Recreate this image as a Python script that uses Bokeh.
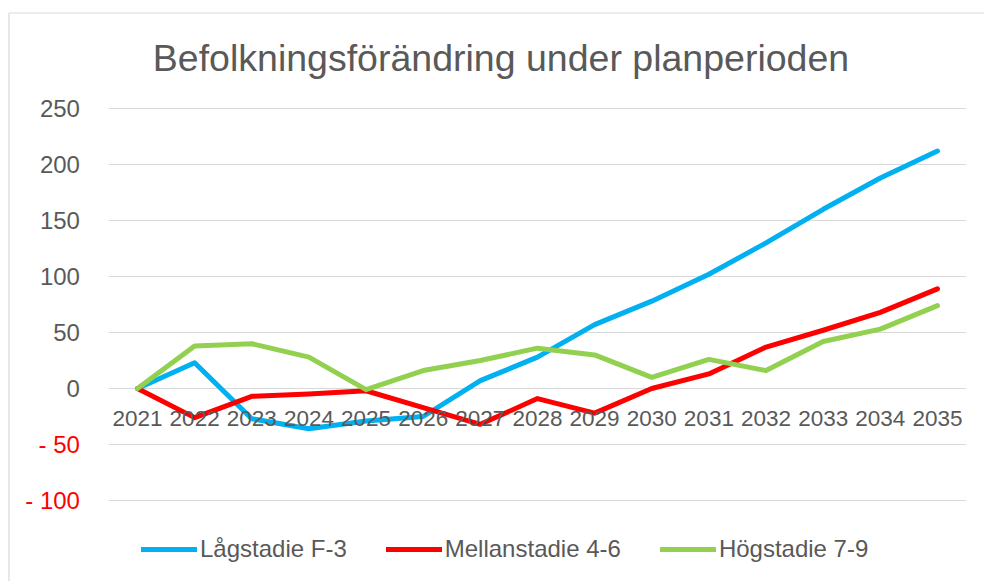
from bokeh.plotting import figure
from bokeh.models import (Range1d, FixedTicker, LinearAxis, Legend, LegendItem,
                          CustomJSTickFormatter, Label)
from bokeh.embed import file_html
from bokeh.resources import INLINE

# ---- data ----
years = [2021, 2022, 2023, 2024, 2025, 2026, 2027, 2028, 2029, 2030, 2031, 2032, 2033, 2034, 2035]
lag = [0, 23, -27, -36, -29, -25, 7, 28, 57, 78, 102, 130, 160, 188, 212]
mellan = [0, -26, -7, -5, -2, -17, -32, -9, -22, 0, 13, 37, 52, 68, 89]
hog = [0, 38, 40, 28, -1, 16, 25, 36, 30, 10, 26, 16, 42, 53, 74]
series_names = ["Lågstadie F-3", "Mellanstadie 4-6", "Högstadie 7-9"]
series_colors = ["#00B0F0", "#FF0000", "#92D050"]
y_ticks_pos = [0, 50, 100, 150, 200, 250]
y_ticks_neg = [-100, -50]
title_text = "Befolkningsförändring under planperioden"

FONT = "Liberation Sans"
GREY = "#595959"
GRID = "#D9D9D9"

# ---- layout (page pixels) ----
W, H = 984, 581
ORIGIN_X, ORIGIN_Y = 0, 0          # canvas top-left in the picture
PX_PER_YEAR = 57.14
PX_FIRST_YEAR = 137                # picture x of first category
PX_PER_UNIT = 1.12
PX_ZERO = 388                      # picture y of value 0
BOX_L, BOX_T = 8.5, 12.5           # chart-area border

x_start = years[0] - (PX_FIRST_YEAR - ORIGIN_X) / PX_PER_YEAR
x_end = x_start + W / PX_PER_YEAR
y_end = (PX_ZERO - ORIGIN_Y) / PX_PER_UNIT
y_start = y_end - H / PX_PER_UNIT
grid_x0 = years[0] - 0.5
grid_x1 = years[-1] + 0.5

p = figure(width=W, height=H,
           x_range=Range1d(x_start, x_end), y_range=Range1d(y_start, y_end),
           output_backend="svg", toolbar_location=None,
           min_border=0, x_axis_location=None, y_axis_location=None)
p.outline_line_color = None
p.background_fill_color = "white"
p.border_fill_color = "white"
p.grid.visible = False

# chart-area border (left and top edges)
bx = x_start + (BOX_L - ORIGIN_X) / PX_PER_YEAR
by = y_end - (BOX_T - ORIGIN_Y) / PX_PER_UNIT
p.segment(x0=[bx, bx], y0=[y_start, by], x1=[bx, x_end], y1=[by, by],
          line_color=GRID, line_width=1.2)

# horizontal gridlines
all_ticks = y_ticks_neg + y_ticks_pos
p.segment(x0=[grid_x0] * len(all_ticks), y0=all_ticks,
          x1=[grid_x1] * len(all_ticks), y1=all_ticks,
          line_color=GRID, line_width=1)

def style_axis(ax, color, standoff, size):
    ax.axis_line_color = None
    ax.major_tick_line_color = None
    ax.minor_tick_line_color = None
    ax.major_label_standoff = standoff
    ax.major_label_text_font = FONT
    ax.major_label_text_font_size = size
    ax.major_label_text_color = color

ypos = LinearAxis(ticker=FixedTicker(ticks=y_ticks_pos))
ypos.fixed_location = grid_x0
style_axis(ypos, GREY, 23, "24px")
p.add_layout(ypos, "left")

yneg = LinearAxis(ticker=FixedTicker(ticks=y_ticks_neg))
yneg.formatter = CustomJSTickFormatter(code="return tick < 0 ? '- ' + Math.abs(tick) : '' + tick;")
yneg.fixed_location = grid_x0
style_axis(yneg, "#FF0000", 23, "24px")
p.add_layout(yneg, "left")

xax = LinearAxis(ticker=FixedTicker(ticks=years))
xax.major_label_overrides = {y: str(y) for y in years}
xax.fixed_location = 0
style_axis(xax, GREY, 16, "22.5px")
p.add_layout(xax, "below")

renderers = []
for vals, col in zip([lag, mellan, hog], series_colors):
    r = p.line(years, vals, line_color=col, line_width=5,
               line_join="round", line_cap="round")
    renderers.append(r)

# title
title = Label(x=500.5 - ORIGIN_X, y=(ORIGIN_Y + H) - 67 + 10, x_units="screen", y_units="screen",
              text=title_text, text_align="center", text_baseline="alphabetic",
              text_font=FONT, text_font_size="37.5px", text_color=GREY)
p.add_layout(title)

legend = Legend(items=[LegendItem(label=n, renderers=[r]) for n, r in zip(series_names, renderers)],
                orientation="horizontal", location=(141 - ORIGIN_X, (ORIGIN_Y + H) - 537 - 26),
                glyph_width=56, glyph_height=26, label_height=26, label_standoff=3, spacing=39,
                padding=0, margin=0, border_line_color=None,
                background_fill_alpha=0,
                label_text_font=FONT, label_text_font_size="24px",
                label_text_color=GREY)
p.add_layout(legend, "center")

open("out.html", "w").write(file_html(p, INLINE))
